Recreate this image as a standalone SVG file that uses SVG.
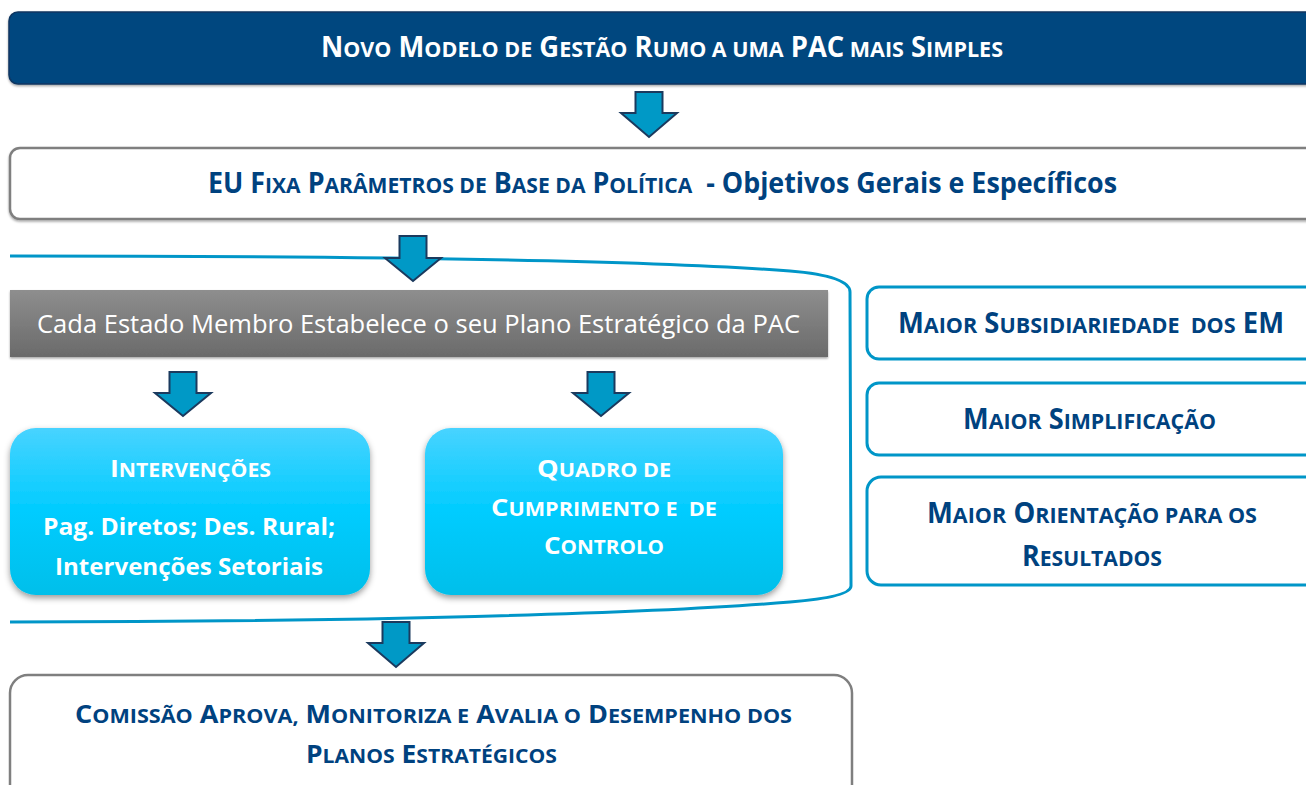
<svg xmlns="http://www.w3.org/2000/svg" width="1306" height="785" viewBox="0 0 1306 785">
<defs>
<linearGradient id="gBlue" x1="0" y1="0" x2="0" y2="1">
<stop offset="0" stop-color="#48D3FF"/>
<stop offset="0.5" stop-color="#00CCFF"/>
<stop offset="1" stop-color="#00BFEA"/>
</linearGradient>
<linearGradient id="gGray" x1="0" y1="0" x2="0" y2="1">
<stop offset="0" stop-color="#8E8E8E"/>
<stop offset="1" stop-color="#6A6A6A"/>
</linearGradient>
<filter id="sh" x="-10%" y="-10%" width="120%" height="130%">
<feDropShadow dx="0" dy="3" stdDeviation="3" flood-color="#000" flood-opacity="0.4"/>
</filter>
<filter id="sh2" x="-5%" y="-10%" width="110%" height="130%">
<feDropShadow dx="0" dy="1.5" stdDeviation="1" flood-color="#000" flood-opacity="0.35"/>
</filter>
</defs>
<style>
text{font-family:"Open Sans","Liberation Sans",sans-serif;font-weight:700;white-space:pre}
.w{fill:#FFFFFF}
.n{fill:#00427F}
.reg{font-weight:400}
.arrow{fill:#0099C6;stroke:#1B3A5E;stroke-width:2;stroke-linejoin:miter}
.bracket{fill:none;stroke:#0096C8;stroke-width:3}
.obox{fill:#FFFFFF;stroke:#0096C8;stroke-width:3}
.gbox{fill:#FFFFFF;stroke:#7F7F7F;stroke-width:2.5}
</style>
<rect width="1306" height="785" fill="#FFFFFF"/>

<g id="banner">
<rect x="9" y="12" width="1310" height="72" rx="9" fill="#00467F" stroke="#0B3560" stroke-width="1.5" filter="url(#sh2)"/>
<text class="w" x="321" y="57" font-size="28" textLength="682" lengthAdjust="spacingAndGlyphs">N<tspan font-size="22">OVO</tspan> M<tspan font-size="22">ODELO DE</tspan> G<tspan font-size="22">ESTÃO</tspan> R<tspan font-size="22">UMO A UMA</tspan> PAC<tspan font-size="22"> MAIS</tspan> S<tspan font-size="22">IMPLES</tspan></text>
</g>

<g id="eu-parametros">
<rect x="10" y="148" width="1310" height="71" rx="10" class="gbox" filter="url(#sh2)"/>
<text class="n" xml:space="preserve" x="208" y="193" font-size="28" textLength="909" lengthAdjust="spacingAndGlyphs">EU F<tspan font-size="22">IXA</tspan> P<tspan font-size="22">ARÂMETROS DE</tspan> B<tspan font-size="22">ASE DA</tspan> P<tspan font-size="22">OLÍTICA</tspan>  - Objetivos Gerais e Específicos</text>
</g>

<g id="connectors">
<path class="bracket" d="M10,256 C350,256 650,260 790,271 Q850,276 850,292 L851,586 Q851,597 790,602 C650,614 350,622 10,622"/>
<polygon class="arrow" points="635.5,92 662.5,92 662.5,113 677,113 649,137 621,113 635.5,113"/>
<polygon class="arrow" points="399.5,236 426.5,236 426.5,258 441,258 413,281 385,258 399.5,258"/>
<polygon class="arrow" points="169.5,372 196.5,372 196.5,393 211,393 183,416 155,393 169.5,393"/>
<polygon class="arrow" points="587.5,372 614.5,372 614.5,393 629,393 601,416 573,393 587.5,393"/>
<polygon class="arrow" points="382.5,622 409.5,622 409.5,643 424,643 396,667 368,643 382.5,643"/>
</g>

<g id="plano-estrategico">
<rect x="10" y="290" width="818" height="67" fill="url(#gGray)" filter="url(#sh2)"/>
<text class="w reg" x="37" y="333" font-size="26" textLength="763" lengthAdjust="spacingAndGlyphs">Cada Estado Membro Estabelece o seu Plano Estratégico da PAC</text>
</g>

<g id="intervencoes">
<rect x="10" y="428" width="360" height="167" rx="26" fill="url(#gBlue)" filter="url(#sh)"/>
<text class="w" x="110" y="477" font-size="24" textLength="161" lengthAdjust="spacingAndGlyphs">I<tspan font-size="19">NTERVENÇÕES</tspan></text>
<text class="w" x="43" y="535" font-size="24" textLength="292" lengthAdjust="spacingAndGlyphs">Pag. Diretos; Des. Rural;</text>
<text class="w" x="55" y="575" font-size="24" textLength="268" lengthAdjust="spacingAndGlyphs">Intervenções Setoriais</text>
</g>

<g id="quadro-cumprimento">
<rect x="425" y="428" width="358" height="167" rx="26" fill="url(#gBlue)" filter="url(#sh)"/>
<text class="w" x="537" y="477" font-size="24" textLength="134" lengthAdjust="spacingAndGlyphs">Q<tspan font-size="19">UADRO DE</tspan></text>
<text class="w" xml:space="preserve" x="491" y="516" font-size="24" textLength="226" lengthAdjust="spacingAndGlyphs">C<tspan font-size="19">UMPRIMENTO E  DE</tspan></text>
<text class="w" x="544" y="554" font-size="24" textLength="120" lengthAdjust="spacingAndGlyphs">C<tspan font-size="19">ONTROLO</tspan></text>
</g>

<g id="subsidiariedade">
<rect x="867" y="287" width="452" height="72" rx="12" class="obox"/>
<text class="n" xml:space="preserve" x="898" y="333" font-size="28" textLength="386" lengthAdjust="spacingAndGlyphs">M<tspan font-size="22">AIOR</tspan> S<tspan font-size="22">UBSIDIARIEDADE  DOS</tspan> EM</text>
</g>

<g id="simplificacao">
<rect x="867" y="383" width="452" height="72" rx="12" class="obox"/>
<text class="n" x="963" y="429" font-size="28" textLength="253" lengthAdjust="spacingAndGlyphs">M<tspan font-size="22">AIOR</tspan> S<tspan font-size="22">IMPLIFICAÇÃO</tspan></text>
</g>

<g id="orientacao">
<rect x="867" y="477" width="452" height="108" rx="14" class="obox"/>
<text class="n" x="927" y="523" font-size="28" textLength="330" lengthAdjust="spacingAndGlyphs">M<tspan font-size="22">AIOR</tspan> O<tspan font-size="22">RIENTAÇÃO PARA OS</tspan></text>
<text class="n" x="1022" y="566" font-size="28" textLength="140" lengthAdjust="spacingAndGlyphs">R<tspan font-size="22">ESULTADOS</tspan></text>
</g>

<g id="comissao">
<rect x="10" y="675" width="842" height="130" rx="18" class="gbox"/>
<text class="n" x="75" y="723" font-size="25" textLength="717" lengthAdjust="spacingAndGlyphs">C<tspan font-size="20">OMISSÃO</tspan> A<tspan font-size="20">PROVA,</tspan> M<tspan font-size="20">ONITORIZA E</tspan> A<tspan font-size="20">VALIA O</tspan> D<tspan font-size="20">ESEMPENHO DOS</tspan></text>
<text class="n" x="306" y="763" font-size="25" textLength="251" lengthAdjust="spacingAndGlyphs">P<tspan font-size="20">LANOS</tspan> E<tspan font-size="20">STRATÉGICOS</tspan></text>
</g>
</svg>
